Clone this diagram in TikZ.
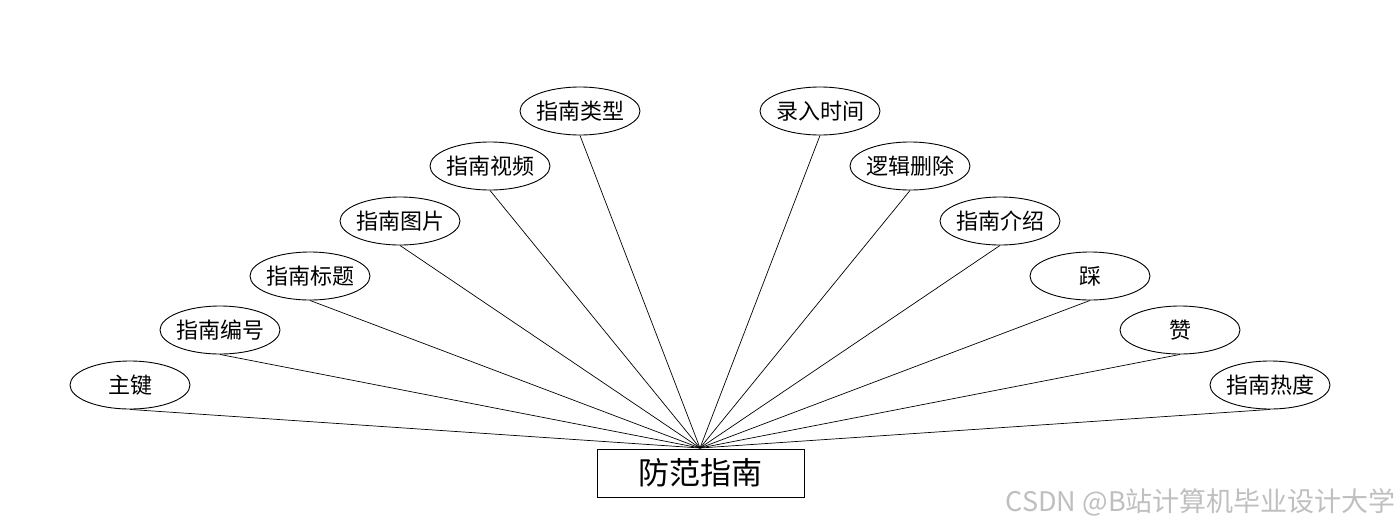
\documentclass[tikz,border=0pt]{standalone}
\usepackage{fontspec}
\setmainfont{Noto Sans CJK SC}
\usetikzlibrary{shapes.geometric}
\tikzset{
  attr/.style={ellipse,draw,line width=0.9pt,minimum width=120pt,minimum height=48pt,inner ysep=0pt,inner xsep=-5pt,font=\fontsize{22pt}{22pt}\selectfont},
  entity/.style={rectangle,draw,line width=0.9pt,minimum width=207pt,minimum height=48pt,inner sep=0pt,font=\fontsize{31pt}{31pt}\selectfont},
  link/.style={line width=0.7pt}
}
\begin{document}
\begin{tikzpicture}[x=1pt,y=-1pt]
\useasboundingbox (0,0) rectangle (1400,528);
\node[entity] (e) at (700.5,473) {防范指南};
\coordinate (hub) at (700,448);
\node[attr] (a1) at (130,385) {主键};
\node[attr] (a2) at (220,330) {指南编号};
\node[attr] (a3) at (310,276) {指南标题};
\node[attr] (a4) at (400,221) {指南图片};
\node[attr] (a5) at (490,166) {指南视频};
\node[attr] (a6) at (580,111) {指南类型};
\node[attr] (a7) at (820,111) {录入时间};
\node[attr] (a8) at (910,166) {逻辑删除};
\node[attr] (a9) at (1000,221) {指南介绍};
\node[attr] (a10) at (1090,276) {踩};
\node[attr] (a11) at (1180,330) {赞};
\node[attr] (a12) at (1270,385) {指南热度};
\foreach \i in {1,...,12} {\draw[link] (a\i.south) -- (hub);}
\node[anchor=east,text=black!25,font=\fontsize{27pt}{27pt}\selectfont,inner sep=0pt] (wm) at (1396,502) {CSDN @B站计算机毕业设计大学};
\end{tikzpicture}
\end{document}
